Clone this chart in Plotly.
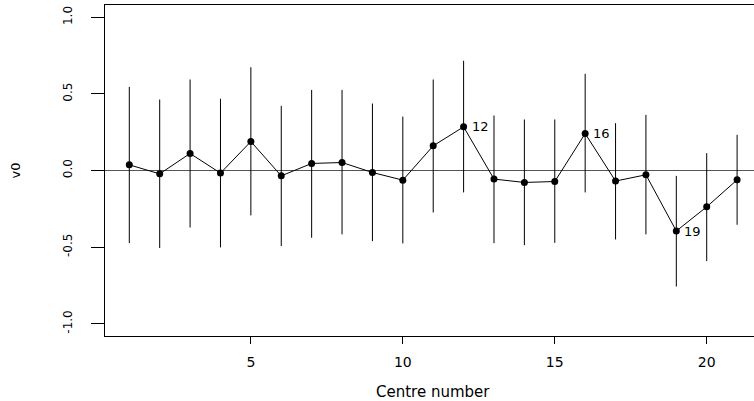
import plotly.graph_objects as go

centre = list(range(1, 22))
estimate = [0.037, -0.022, 0.111, -0.017, 0.189, -0.035, 0.046, 0.052, -0.013, -0.063,
            0.161, 0.285, -0.056, -0.078, -0.072, 0.241, -0.069, -0.028, -0.395, -0.237, -0.061]
upper = [0.546, 0.463, 0.594, 0.468, 0.674, 0.422, 0.526, 0.526, 0.437, 0.352,
         0.594, 0.716, 0.359, 0.333, 0.333, 0.631, 0.309, 0.363, -0.035, 0.113, 0.233]
lower = [-0.474, -0.506, -0.372, -0.502, -0.293, -0.493, -0.439, -0.417, -0.461, -0.476,
         -0.274, -0.143, -0.474, -0.487, -0.472, -0.143, -0.450, -0.417, -0.757, -0.591, -0.354]
labelled = [12, 16, 19]
x_ticks = [5, 10, 15, 20]
y_ticks = [-1.0, -0.5, 0.0, 0.5, 1.0]
y_ticktext = ["-1.0", "-0.5", "0.0", "0.5", "1.0"]

FONT = "DejaVu Sans"

fig = go.Figure()

# zero reference line
fig.add_shape(type="line", xref="paper", x0=0, x1=1, yref="y", y0=0, y1=0,
              line=dict(color="#555555", width=1), layer="below")

fig.add_trace(go.Scatter(
    x=centre, y=estimate, mode="lines+markers",
    line=dict(color="black", width=1),
    marker=dict(color="black", size=7),
    error_y=dict(type="data", symmetric=False,
                 array=[u - e for u, e in zip(upper, estimate)],
                 arrayminus=[e - l for e, l in zip(estimate, lower)],
                 color="black", thickness=1, width=0),
    showlegend=False, hoverinfo="skip"))

annotations = [
    dict(text=str(c), x=c, y=estimate[c - 1], xref="x", yref="y",
         xanchor="left", yanchor="middle", xshift=6, showarrow=False,
         font=dict(family=FONT, size=13, color="black"))
    for c in labelled
]
annotations += [
    dict(text="Centre number", xref="paper", yref="paper", x=0.5054, y=0,
         xanchor="center", yanchor="middle", yshift=-56, showarrow=False,
         font=dict(family=FONT, size=15)),
    dict(text="v0", xref="paper", yref="paper", x=0, y=0.5,
         xanchor="center", yanchor="middle", xshift=-90, textangle=-90,
         showarrow=False, font=dict(family=FONT, size=13)),
]

fig.update_layout(
    width=754, height=401,
    margin=dict(l=105, r=0, t=5, b=65),
    paper_bgcolor="white", plot_bgcolor="white",
    font=dict(family=FONT, color="black"),
    xaxis=dict(range=[0.2, 21.556], tickvals=x_ticks, ticks="outside", ticklen=7,
               tickcolor="black", showline=True, linecolor="black", linewidth=1,
               mirror=True, showgrid=False, zeroline=False,
               tickfont=dict(family=FONT, size=14), ticklabelstandoff=6),
    yaxis=dict(range=[-1.08, 1.08], tickvals=y_ticks, ticktext=y_ticktext,
               ticks="outside", ticklen=13, tickcolor="black", tickangle=-90,
               showline=True, linecolor="black", linewidth=1, mirror=False,
               showgrid=False, zeroline=False,
               tickfont=dict(family=FONT, size=12), ticklabelstandoff=14),
    annotations=annotations,
)

fig.write_html("out.html")
